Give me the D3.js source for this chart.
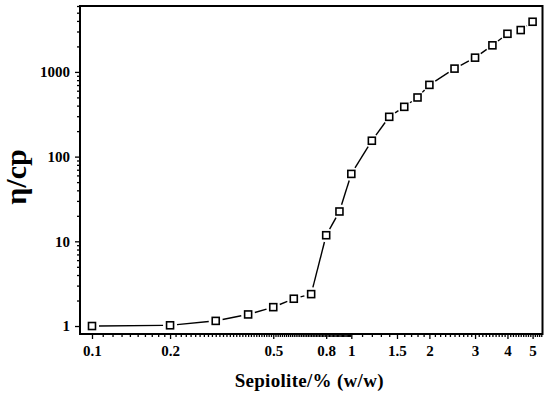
<!DOCTYPE html>
<html>
<head>
<meta charset="utf-8">
<script src="https://cdn.jsdelivr.net/npm/d3@7"></script>
<style>
  body { margin: 0; background: #fff; }
  text { font-family: "Liberation Serif", "Times New Roman", serif; font-weight: bold; }
</style>
</head>
<body>
<div id="chart"></div>
<script>
// data
const sepiolite = [0.1, 0.2, 0.3, 0.4, 0.5, 0.6, 0.7, 0.8, 0.9, 1.0, 1.2, 1.4, 1.6, 1.8, 2.0, 2.5, 3.0, 3.5, 4.0, 4.5, 5.0];
const viscosity = [1.0, 1.02, 1.15, 1.37, 1.67, 2.1, 2.38, 11.8, 22.5, 62.5, 154, 295, 387, 499, 703, 1094, 1473, 2060, 2820, 3120, 3910];

const xTickLabels = [0.1, 0.2, 0.5, 0.8, 1, 1.5, 2, 3, 4, 5];
const yTickLabels = [1, 10, 100, 1000];

const width = 550, height = 397;
const margin = { top: 6, right: 7.5, bottom: 63, left: 80 };
const w = width - margin.left - margin.right;
const h = height - margin.top - margin.bottom;

const svg = d3.select("#chart")
  .append("svg")
  .attr("width", width)
  .attr("height", height);

const g = svg.append("g").attr("transform", `translate(${margin.left},${margin.top})`);

const x = d3.scaleLog().domain([0.0899, 5.46]).range([0, w]);
const y = d3.scaleLog().domain([0.805, 6000]).range([h, 0]);

// minor ticks
const xMinor = [];
for (let i = 10; i <= 99; i++) xMinor.push(i / 100);
for (let i = 10; i <= 54; i++) xMinor.push(i / 10);
const xMinorTicks = xMinor.filter(v => !xTickLabels.some(t => Math.abs(t - v) < 1e-9));

const yMinor = [];
[1, 10, 100, 1000].forEach(d => { for (let k = 2; k <= 9; k++) if (d * k <= 6000) yMinor.push(d * k); });

g.append("g")
  .attr("transform", `translate(0,${h})`)
  .call(d3.axisBottom(x).tickValues(xMinorTicks).tickSize(3).tickFormat(""))
  .call(a => a.select(".domain").remove());

g.append("g")
  .call(d3.axisLeft(y).tickValues(yMinor).tickSize(3).tickFormat(""))
  .call(a => a.select(".domain").remove());

// major ticks + labels
const xAxis = g.append("g")
  .attr("transform", `translate(0,${h})`)
  .call(d3.axisBottom(x).tickValues(xTickLabels).tickSize(5).tickPadding(6).tickFormat(d3.format("")));

const yAxis = g.append("g")
  .call(d3.axisLeft(y).tickValues(yTickLabels).tickSize(5).tickPadding(5).tickFormat(d3.format("")));

[xAxis, yAxis].forEach(a => {
  a.selectAll("text").attr("font-size", "15px").attr("font-family", "Liberation Serif").attr("font-weight", "bold").attr("fill", "#000");
  a.select(".domain").remove();
});
g.selectAll(".tick line").attr("stroke", "#000").attr("stroke-width", 1.3);

// frame
g.append("rect")
  .attr("width", w)
  .attr("height", h)
  .attr("fill", "none")
  .attr("stroke", "#000")
  .attr("stroke-width", 2);

// line with gaps round the markers
const pts = sepiolite.map((v, i) => [x(v), y(viscosity[i])]);
const gap = 7;
const segs = [];
for (let i = 0; i < pts.length - 1; i++) {
  const [x1, y1] = pts[i], [x2, y2] = pts[i + 1];
  const len = Math.hypot(x2 - x1, y2 - y1);
  if (len <= 2 * gap) continue;
  const ux = (x2 - x1) / len, uy = (y2 - y1) / len;
  segs.push([x1 + ux * gap, y1 + uy * gap, x2 - ux * gap, y2 - uy * gap]);
}
g.append("g").selectAll("line")
  .data(segs)
  .enter()
  .append("line")
  .attr("x1", d => d[0]).attr("y1", d => d[1])
  .attr("x2", d => d[2]).attr("y2", d => d[3])
  .attr("stroke", "#000")
  .attr("stroke-width", 1.4);

// markers
const s = 7;
g.append("g").selectAll("rect")
  .data(sepiolite)
  .enter()
  .append("rect")
  .attr("x", (d, i) => x(d) - s / 2)
  .attr("y", (d, i) => y(viscosity[i]) - s / 2)
  .attr("width", s)
  .attr("height", s)
  .attr("fill", "#fff")
  .attr("stroke", "#000")
  .attr("stroke-width", 1.6);

// axis titles
svg.append("text")
  .attr("x", margin.left + w / 2 - 2)
  .attr("y", 387)
  .attr("text-anchor", "middle")
  .attr("font-size", "19px")
  .attr("letter-spacing", "0.3px")
  .text("Sepiolite/% (w/w)");

svg.append("text")
  .attr("transform", "translate(26,177) rotate(-90)")
  .attr("text-anchor", "middle")
  .attr("font-size", "30px")
  .text("η/cp");
</script>
</body>
</html>
